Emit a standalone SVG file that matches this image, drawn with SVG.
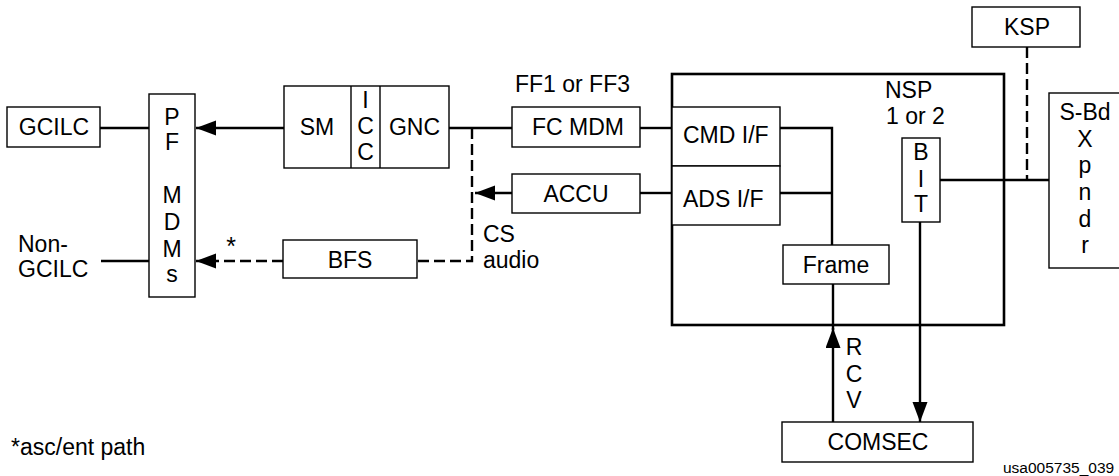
<svg xmlns="http://www.w3.org/2000/svg" width="1119" height="476" viewBox="0 0 1119 476">
<defs>
<style>
text{font-family:"Liberation Sans",Arial,sans-serif;font-size:23px;fill:#000}
.c{text-anchor:middle}
.box{fill:#fff;stroke:#000;stroke-width:1.4}
.thick{fill:none;stroke:#000;stroke-width:2.6}
.ln{fill:none;stroke:#000;stroke-width:2.4}
.dash{fill:none;stroke:#000;stroke-width:2.4;stroke-dasharray:11,5}
.small{font-size:15.5px}
</style>
<marker id="ah" markerUnits="userSpaceOnUse" markerWidth="22" markerHeight="16" refX="20" refY="7.5" orient="auto">
<path d="M0,0 L20,7.5 L0,15 z" fill="#000"/>
</marker>
</defs>
<rect width="1119" height="476" fill="#fff"/>

<g id="connectors">
<line class="ln" x1="100" y1="128" x2="149" y2="128"/>
<line class="ln" x1="284" y1="128" x2="196" y2="128" marker-end="url(#ah)"/>
<line class="ln" x1="449" y1="128" x2="512" y2="128"/>
<line class="ln" x1="101" y1="261" x2="149" y2="261"/>
<polyline class="dash" points="472,128 472,261 417,261"/>
<line class="dash" x1="283" y1="261" x2="196" y2="261" marker-end="url(#ah)"/>
<line class="ln" x1="512" y1="193" x2="475" y2="193" marker-end="url(#ah)"/>
<line class="ln" x1="640" y1="128" x2="672" y2="128"/>
<line class="ln" x1="640" y1="193" x2="672" y2="193"/>
<polyline class="ln" points="780,128 832,128 832,245"/>
<line class="ln" x1="780" y1="193" x2="832" y2="193"/>
<line class="ln" x1="833" y1="284" x2="833" y2="330"/>
<line class="ln" x1="833" y1="422" x2="833" y2="328" marker-end="url(#ah)"/>
<line class="ln" x1="920" y1="222" x2="920" y2="422" marker-end="url(#ah)"/>
<line class="ln" x1="940" y1="180" x2="1049" y2="180"/>
<line class="dash" x1="1027" y1="47" x2="1027" y2="180"/>
</g>

<g id="nsp">
<rect class="thick" x="672" y="74" width="332" height="251"/>
<text x="885" y="98">NSP</text>
<text x="886" y="124">1 or 2</text>
</g>

<g id="gcilc">
<rect class="box" x="7" y="107" width="93" height="40"/>
<text class="c" x="54" y="135">GCILC</text>
</g>

<g id="non-gcilc">
<text x="18" y="252">Non-</text>
<text x="18" y="277">GCILC</text>
</g>

<g id="pf-mdms">
<rect class="box" x="149" y="94" width="46" height="203"/>
<text class="c" x="172" y="125">P</text>
<text class="c" x="172" y="150">F</text>
<text class="c" x="172" y="203">M</text>
<text class="c" x="172" y="230">D</text>
<text class="c" x="172" y="257">M</text>
<text class="c" x="172" y="282">s</text>
</g>

<g id="star">
<text class="c" x="231" y="255" style="font-size:25px">*</text>
</g>

<g id="sm-icc-gnc">
<rect class="box" x="284" y="86" width="165" height="82"/>
<line stroke="#000" stroke-width="1.4" x1="351" y1="86" x2="351" y2="168"/>
<line stroke="#000" stroke-width="1.4" x1="380" y1="86" x2="380" y2="168"/>
<text class="c" x="317" y="135">SM</text>
<text class="c" x="365.5" y="108">I</text>
<text class="c" x="365.5" y="134">C</text>
<text class="c" x="365.5" y="160">C</text>
<text class="c" x="414.5" y="135">GNC</text>
</g>

<g id="bfs">
<rect class="box" x="283" y="240" width="134" height="38"/>
<text class="c" x="350" y="268">BFS</text>
</g>

<g id="cs-audio">
<text x="483" y="242">CS</text>
<text x="483" y="268">audio</text>
</g>

<g id="fc-mdm">
<text x="515" y="92">FF1 or FF3</text>
<rect class="box" x="512" y="107" width="128" height="40"/>
<text class="c" x="578" y="135">FC MDM</text>
</g>

<g id="accu">
<rect class="box" x="512" y="174" width="128" height="39"/>
<text class="c" x="576" y="202">ACCU</text>
</g>

<g id="cmd-if">
<rect class="box" x="672" y="107" width="108" height="59"/>
<text x="683" y="143">CMD I/F</text>
</g>

<g id="ads-if">
<rect class="box" x="672" y="166" width="108" height="59"/>
<text x="683" y="207">ADS I/F</text>
</g>

<g id="frame">
<rect class="box" x="783" y="245" width="106" height="39"/>
<text class="c" x="836" y="273">Frame</text>
</g>

<g id="bit">
<rect class="box" x="902" y="138" width="38" height="84"/>
<text class="c" x="921" y="160">B</text>
<text class="c" x="921" y="187">I</text>
<text class="c" x="921" y="212">T</text>
</g>

<g id="ksp">
<rect class="box" x="972" y="7" width="108" height="40"/>
<text class="c" x="1027" y="35">KSP</text>
</g>

<g id="s-bd-xpndr">
<rect class="box" x="1049" y="93" width="80" height="175"/>
<text class="c" x="1085" y="120">S-Bd</text>
<text class="c" x="1085" y="147">X</text>
<text class="c" x="1085" y="173">p</text>
<text class="c" x="1085" y="200">n</text>
<text class="c" x="1085" y="227">d</text>
<text class="c" x="1085" y="253">r</text>
</g>

<g id="rcv">
<text class="c" x="854" y="355">R</text>
<text class="c" x="854" y="382">C</text>
<text class="c" x="854" y="408">V</text>
</g>

<g id="comsec">
<rect class="box" x="782" y="422" width="191" height="40"/>
<text class="c" x="878" y="450">COMSEC</text>
</g>

<g id="footnote">
<text x="11" y="455">*asc/ent path</text>
</g>

<g id="figure-id">
<text class="small" x="1003" y="473">usa005735_039</text>
</g>
</svg>
